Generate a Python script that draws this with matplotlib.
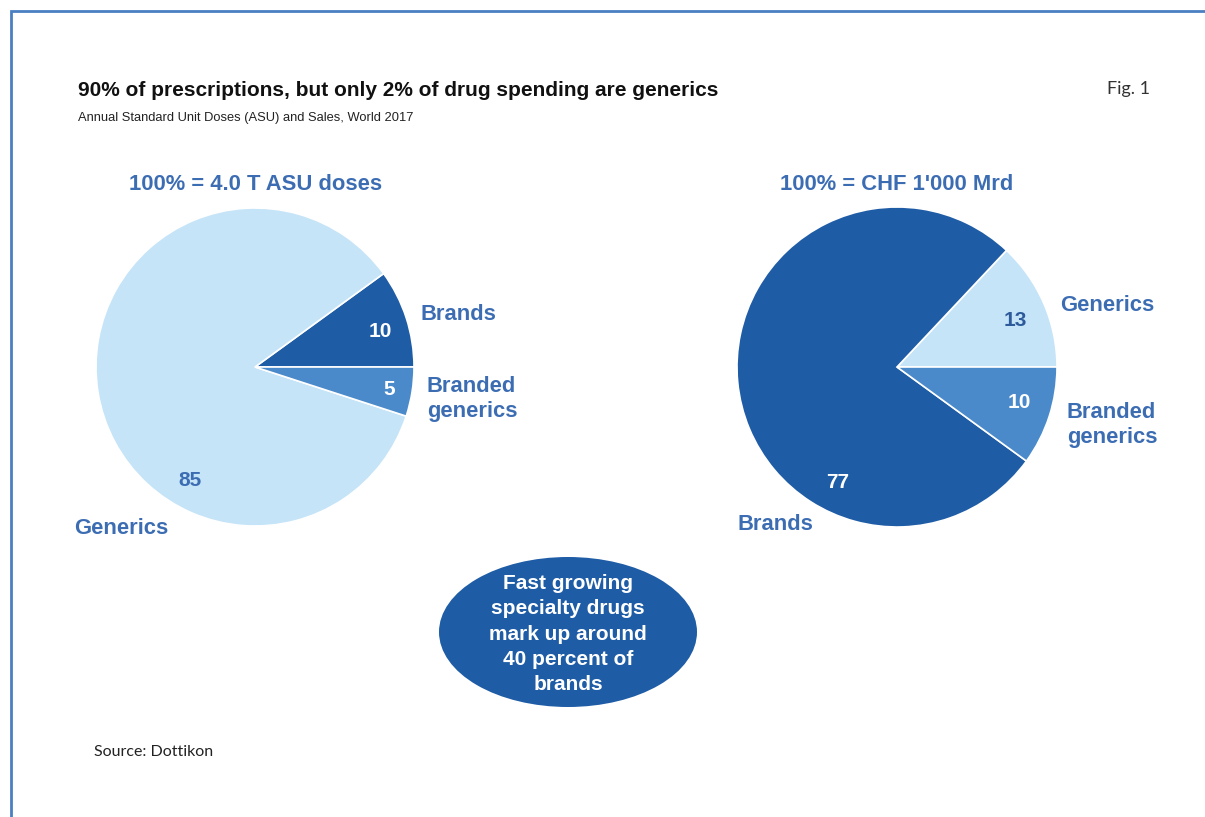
import matplotlib
matplotlib.use('Agg')
import matplotlib.pyplot as plt
from matplotlib.patches import Rectangle, Ellipse

W, H = 1205, 817

# data
doses_labels = ['Brands', 'Branded generics', 'Generics']
doses_values = [10, 5, 85]
sales_labels = ['Generics', 'Branded generics', 'Brands']
sales_values = [13, 10, 77]

light = '#c6e4f8'
dark = '#1f5ca6'
mid = '#4a8acb'
txtblue = '#3c6db3'

plt.rcParams['font.family'] = ['Liberation Sans', 'DejaVu Sans']

fig = plt.figure(figsize=(W / 100, H / 100), dpi=100)


def fx(px):
    return px / W


def fy(py):
    return 1 - py / H


def ftext(x, y, s, **kw):
    fig.text(fx(x), fy(y), s, **kw)


# frame
fig.patches.append(Rectangle((fx(11), fy(900)), fx(1300), fy(11) - fy(900),
                             transform=fig.transFigure, fill=False,
                             edgecolor='#4a80c2', lw=2))


def pie_axes(cx, cy, r):
    ax = fig.add_axes([fx(cx - r), fy(cy + r), fx(2 * r), fy(cy - r) - fy(cy + r)])
    ax.axis('off')
    return ax


def fix_limits(ax):
    ax.set_xlim(-1, 1)
    ax.set_ylim(-1, 1)
    ax.set_aspect('equal')


# left pie: doses
ax1 = pie_axes(255, 367, 159)
# order: Brands above 0 deg, generics rest, branded generics below 0 deg
w = [doses_values[0], doses_values[2], doses_values[1]]
ax1.pie(w, colors=[dark, light, mid], startangle=0, counterclock=True,
        radius=1, wedgeprops=dict(edgecolor='white', linewidth=1.2))
fix_limits(ax1)

# right pie: sales
ax2 = pie_axes(897, 367, 160)
w = [sales_values[0], sales_values[2], sales_values[1]]
ax2.pie(w, colors=[light, dark, mid], startangle=0, counterclock=True,
        radius=1, wedgeprops=dict(edgecolor='white', linewidth=1.2))
fix_limits(ax2)

# titles
ftext(78, 90, '90% of prescriptions, but only 2% of drug spending are generics',
      fontsize=15, fontweight='bold', color='#111111', va='center')
ftext(78, 118, 'Annual Standard Unit Doses (ASU) and Sales, World 2017',
      fontsize=9.3, color='#222222', va='center')
ftext(1107, 89, 'Fig. 1', fontsize=13, color='#333333', va='center',
      family=['Lato', 'DejaVu Sans'])

ftext(256, 184, '100% = 4.0 T ASU doses', fontsize=15.8, fontweight='bold',
      color=txtblue, ha='center', va='center')
ftext(897, 184, "100% = CHF 1'000 Mrd", fontsize=15.8, fontweight='bold',
      color=txtblue, ha='center', va='center')

lab = dict(fontsize=15.8, fontweight='bold', color=txtblue, va='center',
           linespacing=1.27)
num = dict(fontsize=15, fontweight='bold', ha='center', va='center')

# left labels
ftext(420, 315, doses_labels[0], **lab)
ftext(427, 399, 'Branded\ngenerics', **lab)
ftext(74, 528, doses_labels[2], **lab)
ftext(380, 331, str(doses_values[0]), color='white', **num)
ftext(389, 389, str(doses_values[1]), color='white', **num)
ftext(190, 481, str(doses_values[2]), color=txtblue, **num)

# right labels
ftext(1060, 305, sales_labels[0], **lab)
ftext(1067, 425, 'Branded\ngenerics', **lab)
ftext(737, 524, sales_labels[2], **lab)
ftext(1015, 321, str(sales_values[0]), color='#2d5a9a', **num)
ftext(1019, 403, str(sales_values[1]), color='white', **num)
ftext(838, 482, str(sales_values[2]), color='white', **num)

# callout ellipse
fig.patches.append(Ellipse((fx(568), fy(632)), fx(258), fy(557) - fy(707),
                           transform=fig.transFigure, facecolor=dark,
                           edgecolor='none'))
ftext(568, 634, 'Fast growing\nspecialty drugs\nmark up around\n40 percent of\nbrands',
      fontsize=15, fontweight='bold', color='white', ha='center', va='center',
      linespacing=1.42)

ftext(94, 752, 'Source: Dottikon', fontsize=11.5, color='#222222', va='center',
      family=['Lato', 'DejaVu Sans'])

fig.savefig('out.png', dpi=100, facecolor='white')
